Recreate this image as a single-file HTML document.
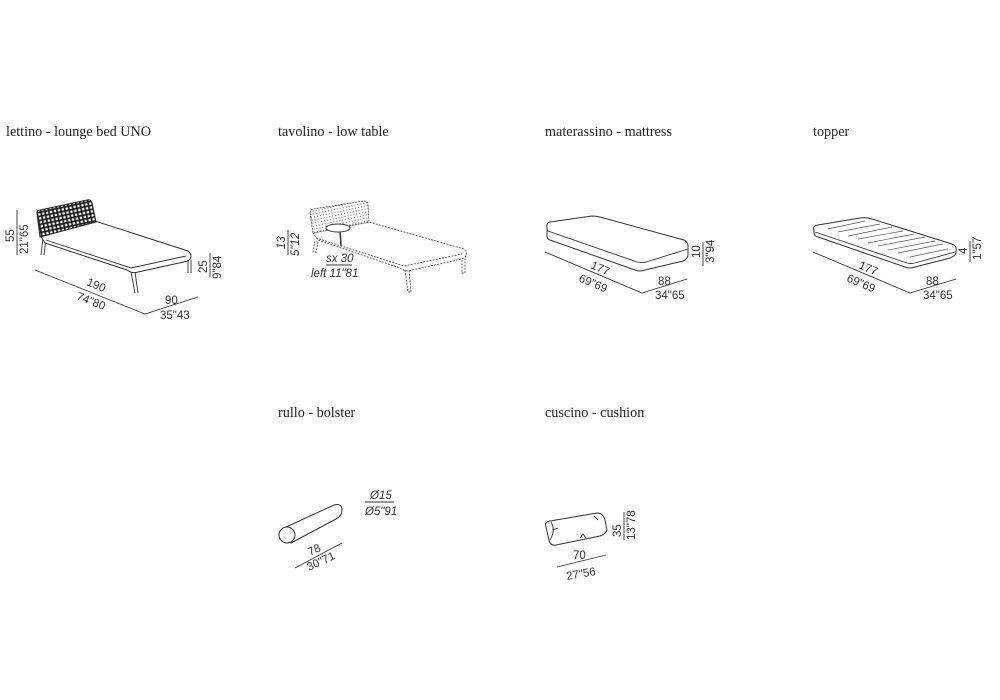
<!DOCTYPE html>
<html><head><meta charset="utf-8"><style>
html,body{margin:0;padding:0;background:#fff;}
svg{display:block;}
.t{font-family:"Liberation Serif",serif;font-size:14.2px;fill:#222;}
.d{font-family:"Liberation Sans",sans-serif;font-size:11.5px;fill:#333;}
.i{font-style:italic;}
.l{stroke:#333;stroke-width:0.9;fill:none;}
.f{stroke:#333;stroke-width:1;fill:#fff;}
.dash{stroke:#555;stroke-width:0.9;fill:none;stroke-dasharray:2,1.2;}
</style></head><body>
<svg width="1000" height="700" viewBox="0 0 1000 700" xmlns="http://www.w3.org/2000/svg">
<defs>
<pattern id="weave" width="4" height="4" patternUnits="userSpaceOnUse" patternTransform="rotate(-12)">
<rect width="4" height="4" fill="#222"/><rect x="0.8" y="0.8" width="2.2" height="2.2" fill="#fff"/>
</pattern>
<pattern id="weave2" width="3" height="3" patternUnits="userSpaceOnUse" patternTransform="rotate(-12)">
<rect width="3" height="3" fill="#fff"/><circle cx="1.5" cy="1.5" r="0.6" fill="#777"/>
</pattern>
</defs>
<text class="t" x="6" y="136">lettino - lounge bed UNO</text>
<text class="t" x="278" y="136">tavolino - low table</text>
<text class="t" x="545" y="136">materassino - mattress</text>
<text class="t" x="813" y="136">topper</text>
<text class="t" x="278" y="417">rullo - bolster</text>
<text class="t" x="545" y="417">cuscino - cushion</text>

<!-- lounge bed -->
<g>
<line class="l" x1="43" y1="238" x2="41" y2="255"/><line class="l" x1="46" y1="238" x2="44" y2="255"/>
<path class="f" d="M40 235 L95 221 L188 251 Q194 256 188 261 L138 272 Q132 274 127 270 L45 243 Z"/>
<path class="l" d="M46 240 L131 268 L186 256"/>
<line class="l" x1="131" y1="272" x2="135" y2="293"/><line class="l" x1="135" y1="272" x2="138" y2="293"/>
<line class="l" x1="188" y1="260" x2="188" y2="273"/><line class="l" x1="191" y1="260" x2="191" y2="273"/>
<path d="M37 213 Q37 210 40 210 L87 200 Q91 199 92 203 L96 222 L40 237 Z" fill="url(#weave)" stroke="#222" stroke-width="1"/>
<line class="l" x1="17" y1="210" x2="17" y2="255"/>
<text class="d" transform="translate(14,242) rotate(-90)">55</text>
<text class="d" transform="translate(28,254) rotate(-90)">21"65</text>
<line class="l" x1="210" y1="253" x2="210" y2="277"/>
<text class="d" transform="translate(207,273) rotate(-90)">25</text>
<text class="d" transform="translate(221,279) rotate(-90)">9"84</text>
<path class="l" d="M35 270 L145 314 L198 297"/>
<text class="d" transform="translate(86,285) rotate(22)">190</text>
<text class="d" transform="translate(76,299) rotate(22)">74"80</text>
<text class="d" x="165" y="304">90</text>
<text class="d" x="160" y="319">35"43</text>
</g>

<!-- low table -->
<g>
<path class="dash" d="M313 233 L369 222 L464 249 Q470 255 462 259 L412 270 Q405 272 400 268 L318 240 Z"/>
<path class="dash" d="M316 238 L404 266 L462 254"/>
<path class="dash" d="M315 241 L313 252 L316 252 L318 242"/>
<path class="dash" d="M405 270 L408 292 L411 292 L409 270"/>
<path class="dash" d="M462 260 L462 273 L465 273 L465 259"/>
<path d="M310 213 Q310 210 313 209 L364 201 Q368 201 368 204 L369 222 L313 233 Z" fill="url(#weave2)" stroke="#555" stroke-width="0.9" stroke-dasharray="2,1"/>
<line x1="340" y1="229" x2="341" y2="246" stroke="#333" stroke-width="1.5"/>
<ellipse cx="338" cy="228" rx="12" ry="4" fill="#fff" stroke="#333" stroke-width="1"/>
<line class="l" x1="288" y1="230" x2="288" y2="255"/>
<text class="d i" transform="translate(285,249) rotate(-90)">13</text>
<text class="d i" transform="translate(299,256) rotate(-90)">5"12</text>
<text class="d i" x="326" y="262">sx 30</text>
<line class="l" x1="326" y1="265" x2="352" y2="265"/>
<text class="d i" x="311" y="277">left 11"81</text>
</g>

<!-- mattress -->
<g>
<path class="f" d="M547 227 Q546 223 550 222 L592 216 Q596 216 600 217 L684 240 Q688 242 688 246 L688 255 Q688 259 683 261 L645 270 Q640 272 635 270 L550 240 Q547 239 547 236 Z"/>
<path class="l" d="M547 229 L548 231 L637 262 Q641 263 646 262 L688 249"/>
<line class="l" x1="703" y1="242" x2="703" y2="266"/>
<text class="d" transform="translate(700,258) rotate(-90)">10</text>
<text class="d" transform="translate(714,263) rotate(-90)">3"94</text>
<path class="l" d="M545 252 L642 293 L687 279"/>
<text class="d" transform="translate(590,268) rotate(23)">177</text>
<text class="d" transform="translate(578,281) rotate(23)">69"69</text>
<text class="d" x="658" y="285">88</text>
<text class="d" x="655" y="299">34"65</text>
</g>

<!-- topper -->
<g>
<path class="f" d="M814 230 Q812 226 818 225 L860 218 Q866 217 872 219 L952 244 Q957 246 956 250 L956 253 Q955 256 950 258 L915 267 Q910 269 905 267 L818 237 Q814 236 814 233 Z"/>
<path class="l" d="M815 232 L907 263 Q911 264 915 263 L955 252"/>
<g stroke="#555" stroke-width="0.7">
<line x1="828" y1="229" x2="865" y2="221"/><line x1="838" y1="232" x2="880" y2="224"/>
<line x1="848" y1="236" x2="892" y2="227"/><line x1="858" y1="239" x2="903" y2="231"/>
<line x1="868" y1="243" x2="914" y2="234"/><line x1="878" y1="246" x2="925" y2="237"/>
<line x1="888" y1="250" x2="935" y2="241"/><line x1="898" y1="253" x2="943" y2="244"/>
<line x1="910" y1="257" x2="948" y2="249"/>
</g>
<line class="l" x1="970" y1="241" x2="970" y2="262"/>
<text class="d" transform="translate(967,254) rotate(-90)">4</text>
<text class="d" transform="translate(981,260) rotate(-90)">1"57</text>
<path class="l" d="M813 252 L910 293 L956 279"/>
<text class="d" transform="translate(858,268) rotate(23)">177</text>
<text class="d" transform="translate(846,281) rotate(23)">69"69</text>
<text class="d" x="926" y="285">88</text>
<text class="d" x="923" y="299">34"65</text>
</g>

<!-- bolster -->
<g>
<path class="f" d="M284 528 L334 505 Q342 503 342 510 Q342 516 336 519 L291 543 Z"/>
<circle class="f" cx="287" cy="535" r="8"/>
<line class="l" x1="295" y1="568" x2="342" y2="543"/>
<text class="d" transform="translate(310,556) rotate(-25)">78</text>
<text class="d" transform="translate(309,571) rotate(-25)">30"71</text>
<text class="d i" x="370" y="499">Ø15</text>
<line class="l" x1="365" y1="502" x2="394" y2="502"/>
<text class="d i" x="365" y="515">Ø5"91</text>
</g>

<!-- cushion -->
<g>
<path class="f" d="M546 527 Q544 522 550 521 L597 513 Q603 513 605 520 L607 530 Q606 534 600 536 L556 545 Q550 546 549 540 Z"/>
<path class="l" d="M551 522 Q556 530 550 540 M552 530 L558 528 M580 538 L583 534 L586 538 M594 516 L598 520"/>
<line class="l" x1="557" y1="567" x2="606" y2="555"/>
<text class="d" x="573" y="559">70</text>
<text class="d" transform="translate(567,580) rotate(-10)">27"56</text>
<line class="l" x1="624" y1="512" x2="624" y2="540"/>
<text class="d" transform="translate(621,537) rotate(-90)">35</text>
<text class="d" transform="translate(635,540) rotate(-90)">13"78</text>
</g>
</svg>
</body></html>
